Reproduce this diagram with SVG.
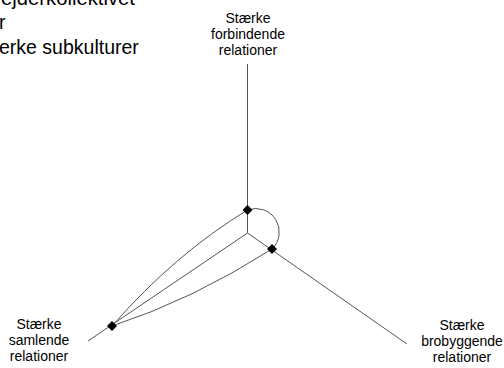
<svg xmlns="http://www.w3.org/2000/svg" width="504" height="368" viewBox="0 0 504 368">
  <style>
    .ln { fill: none; stroke: #555; stroke-width: 1; }
    .lbl { font-family: "Liberation Sans", Arial, sans-serif; font-size: 14px; fill: #000; text-anchor: middle; }
    .ttl { font-family: "Liberation Sans", Arial, sans-serif; font-size: 19.5px; fill: #000; }
    .dm { fill: #000; }
  </style>
  <defs>
    <path id="diamond" d="M0,-5 L5,0 L0,5 L-5,0 Z"/>
  </defs>

  <!-- title, clipped at the left edge -->
  <g id="title">
    <text class="ttl" x="1" y="5" textLength="134" lengthAdjust="spacingAndGlyphs">ejderkollektivet</text>
    <text class="ttl" x="-1" y="29">r</text>
    <text class="ttl" x="-1" y="54">erke subkulturer</text>
  </g>

  <!-- connectors -->
  <g id="connectors">
    <!-- three axes -->
    <line class="ln" x1="247.5" y1="64" x2="247.5" y2="233"/>
    <line class="ln" x1="247.5" y1="233" x2="88" y2="341"/>
    <line class="ln" x1="247.5" y1="233" x2="407" y2="344"/>
    <!-- curves between axis points -->
    <path class="ln" d="M112,326 Q175,254 247.5,210"/>
    <path class="ln" d="M112,326 Q192,300 272,249"/>
    <path class="ln" d="M247.5,210 A23.5,23.5 0 0 1 272,249"/>
  </g>

  <!-- axis points -->
  <g id="point-top"><use href="#diamond" class="dm" x="247.5" y="210"/></g>
  <g id="point-right"><use href="#diamond" class="dm" x="272" y="249"/></g>
  <g id="point-left"><use href="#diamond" class="dm" x="112" y="326"/></g>

  <!-- axis labels -->
  <g id="label-top">
    <text class="lbl" x="248" y="23">Stærke</text>
    <text class="lbl" x="248" y="39">forbindende</text>
    <text class="lbl" x="248" y="55">relationer</text>
  </g>
  <g id="label-left">
    <text class="lbl" x="39" y="329">Stærke</text>
    <text class="lbl" x="39" y="345">samlende</text>
    <text class="lbl" x="39" y="361">relationer</text>
  </g>
  <g id="label-right">
    <text class="lbl" x="462" y="330">Stærke</text>
    <text class="lbl" x="462" y="346">brobyggende</text>
    <text class="lbl" x="462" y="362">relationer</text>
  </g>
</svg>
